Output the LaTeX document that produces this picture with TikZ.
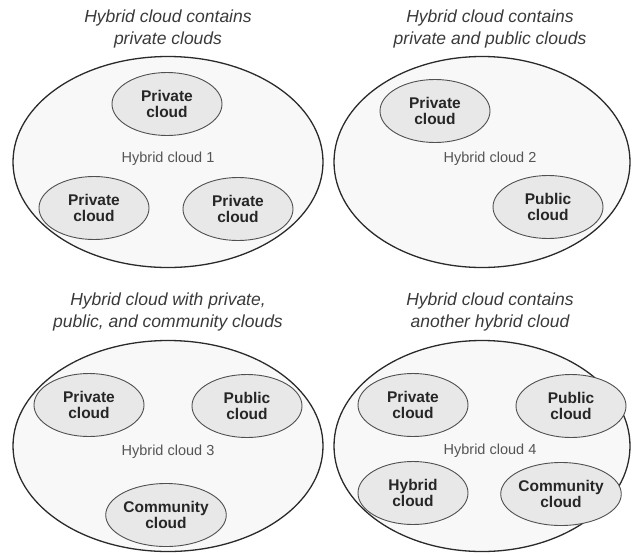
\documentclass[tikz,border=0pt]{standalone}
\usepackage{fontspec}
\setmainfont{Liberation Sans}
\usetikzlibrary{shapes.geometric}
\definecolor{outerfill}{HTML}{F8F8F8}
\definecolor{innerfill}{HTML}{E8E8E8}
\definecolor{rimline}{HTML}{2A2A2A}
\definecolor{innerline}{HTML}{505050}
\definecolor{titletext}{HTML}{3A3A3A}
\definecolor{labeltext}{HTML}{555555}
\tikzset{
  hybrid/.style={ellipse, draw=rimline, fill=outerfill, line width=1.3pt,
    inner sep=0pt, minimum width=#1},
  member/.style={ellipse, draw=innerline, fill=innerfill, line width=0.9pt,
    inner sep=0pt, minimum width=110pt, minimum height=63pt, align=center,
    text=black!85, font=\bfseries\fontsize{15.5}{16}\selectfont},
  heading/.style={align=center, text=titletext,
    font=\itshape\fontsize{17.5}{22}\selectfont},
  hname/.style={text=labeltext, font=\fontsize{14.5}{16}\selectfont},
}
\begin{document}
\begin{tikzpicture}[x=1pt, y=-1pt]
\useasboundingbox (0,0) rectangle (632,555);

% panel 1: only private clouds
\node[heading] (t1) at (168,29) {Hybrid cloud contains\\private clouds};
\node[hybrid=310pt, minimum height=211pt] (h1) at (168,162) {};
\node[hname] (n1) at (168,159) {Hybrid cloud 1};
\node[member] (p1a) at (167,104) {Private\\cloud};
\node[member] (p1b) at (94,208) {Private\\cloud};
\node[member] (p1c) at (238,209) {Private\\cloud};

% panel 2: private and public clouds
\node[heading] (t2) at (490,29) {Hybrid cloud contains\\private and public clouds};
\node[hybrid=296pt, minimum height=211pt] (h2) at (482,162) {};
\node[hname] (n2) at (490,159) {Hybrid cloud 2};
\node[member] (p2a) at (435,111) {Private\\cloud};
\node[member] (p2b) at (548,207) {Public\\cloud};

% panel 3: private, public and community clouds
\node[heading] (t3) at (168,312) {Hybrid cloud with private,\\public, and community clouds};
\node[hybrid=310pt, minimum height=211pt] (h3) at (168,446) {};
\node[hname] (n3) at (168,452) {Hybrid cloud 3};
\node[member] (p3a) at (89,405) {Private\\cloud};
\node[member] (p3b) at (247,406) {Public\\cloud};
\node[member] (p3c) at (166,515) {Community\\cloud};

% panel 4: a hybrid cloud nested inside another
\node[heading] (t4) at (490,312) {Hybrid cloud contains\\another hybrid cloud};
\node[hybrid=296pt, minimum height=211pt] (h4) at (482,446) {};
\node[hname] (n4) at (490,451) {Hybrid cloud 4};
\node[member] (p4a) at (413,405) {Private\\cloud};
\node[member] (p4b) at (571,406) {Public\\cloud};
\node[member] (p4c) at (413,493) {Hybrid\\cloud};
\node[member] (p4d) at (561,494) {Community\\cloud};
\end{tikzpicture}
\end{document}
